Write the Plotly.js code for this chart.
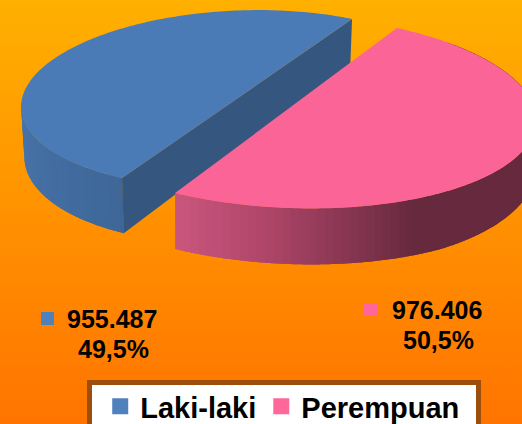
<!DOCTYPE html>
<html><head><meta charset="utf-8">
<script src="https://cdn.plot.ly/plotly-3.0.1.min.js"></script>
<style>html,body{margin:0;padding:0;width:522px;height:424px;overflow:hidden;background:linear-gradient(180deg,#FFB000 0%,#FF8D00 58%,#FF7400 100%)}#c{width:522px;height:424px}</style>
</head><body><div id="c"></div>
<script>
const categories = ["Laki-laki", "Perempuan"];
const values = [955487, 976406];
const topColors = ["#4A7BB7", "#FA6496"];
const keyColors = ["#4F81BD", "#FF6699"];

const total = values[0] + values[1];
const fracs = values.map(v => v / total);
const spanBlue = fracs[0] * 360, spanPink = fracs[1] * 360;
const startA = 60 + (180 - spanBlue) / 2;       // blue runs counter-clockwise from here
const endA = startA + spanBlue;
const rad = d => d * Math.PI / 180;

// Projected ellipses for each slice of the tilted pie
const blueE = {cx:240.2, cy:99.2, rx:219, sx:6.4, ry:89, ky:-4.9};
const pinkE = {cx:289.8, cy:111.4, rx:246, sx:-13.9, ry:97, ky:2.97};
const pt = (e, a) => { const t = rad(a);
  return [e.cx + e.rx*Math.cos(t) + e.sx*Math.sin(t), e.cy - e.ry*Math.sin(t) + e.ky*Math.cos(t)]; };
const blueDrop = p => { const d = 44 + 0.07*(p[1]-19); return [blueE.cx + (p[0]-blueE.cx)*0.985, p[1]+d]; };
const pinkDrop = p => { const d = Math.min(56, 56 - (193-p[1])*0.13); return [p[0], p[1]+d]; };

const poly = (pts, color) => ({type:'scatter', mode:'none', x:pts.map(p=>p[0]), y:pts.map(p=>p[1]),
  fill:'toself', fillcolor:color, hoverinfo:'skip', showlegend:false});
const mix = (a,b,f) => 'rgb(' + a.map((v,i)=>Math.round(v+(b[i]-v)*f)).join(',') + ')';
const arc = (e, a0, a1, step) => { const out = []; for (let a = a0; a < a1; a += step) out.push(pt(e,a)); out.push(pt(e,a1)); return out; };

const data = [];
// blue outer wall: overlapping strips so no background shows between them
const blueStep = 3;
for (let a = 178; a < endA; a += blueStep) {
  const b = Math.min(a + 2*blueStep, endA);
  const top = arc(blueE, a, b, 0.5);
  data.push(poly(top.concat(top.map(blueDrop).reverse()), mix([72,117,172],[62,103,152],(a-178)/(endA-178))));
}
// blue cut face
const bs = pt(blueE,startA), be = pt(blueE,endA);
data.push(poly([be,bs,blueDrop(bs),blueDrop(be)], "#35577F"));
// blue top
data.push(poly(arc(blueE,startA,endA,1), topColors[0]));
// pink outer wall, shaded by horizontal position
const wallL = [201,85,125], wallM = [175,70,105], wallD = [102,41,62];
const shade = x => x < 261 ? mix(wallL,wallM,(x-175)/86) : mix(wallM,wallD,Math.min(1,(x-261)/150));
const pinkEnd = endA + spanPink, pinkStep = 2;
for (let a = endA; a < 405; a += pinkStep) {
  const top = arc(pinkE, a, a + 2*pinkStep, 0.5);
  data.push(poly(top.concat(top.map(pinkDrop).reverse()), shade(top[0][0])));
}
// pink top
data.push(poly(arc(pinkE,endA,pinkEnd,1), topColors[1]));

// data label keys
const keyX = [47.5, 370.5], keyY = [318.5, 309.5];
keyX.forEach((x,i)=>data.push({type:'scatter', mode:'markers', x:[x], y:[keyY[i]],
  marker:{symbol:'square', size:13, color:keyColors[i]}, hoverinfo:'skip', showlegend:false}));
// legend entries
categories.forEach((c,i)=>data.push({type:'scatter', mode:'markers', name:c, x:[null], y:[null],
  marker:{symbol:'square', size:16, color:keyColors[i]}, hoverinfo:'skip', showlegend:true}));

const fmtV = v => String(v).replace(/\B(?=(\d{3})+$)/g,'.');
const fmtP = f => (f*100).toFixed(1).replace('.',',') + '%';
const labelFont = {family:'"Liberation Sans", Arial, sans-serif', size:25, color:'#000000'};
const labelX = [112, 437], labelY = [319, 310], lineGap = 30;
const annotations = [];
values.forEach((v,i)=>{
  annotations.push({xref:'x', yref:'y', x:labelX[i], y:labelY[i], text:'<b>'+fmtV(v)+'</b>', showarrow:false, font:labelFont, xanchor:'center', yanchor:'middle'});
  annotations.push({xref:'x', yref:'y', x:labelX[i]+1, y:labelY[i]+lineGap, text:'<b>'+fmtP(fracs[i])+'</b>', showarrow:false, font:labelFont, xanchor:'center', yanchor:'middle'});
});

const layout = {
  width:522, height:424, margin:{l:0,r:0,t:0,b:0,autoexpand:false},
  paper_bgcolor:'rgba(0,0,0,0)', plot_bgcolor:'rgba(0,0,0,0)',
  xaxis:{range:[0,522], visible:false, fixedrange:true},
  yaxis:{range:[424,0], visible:false, fixedrange:true},
  annotations,
  shapes:[{type:'rect', xref:'x', yref:'y', x0:89.5, x1:478.5, y0:382.5, y1:450, line:{color:'#9C4F0C', width:5}, fillcolor:'#FFFFFF', layer:'below'}],
  legend:{orientation:'h', x:0.192, xanchor:'left', y:1-381/424, yanchor:'top', bgcolor:'rgba(0,0,0,0)', borderwidth:0,
    itemsizing:'trace', itemwidth:30,
    font:{family:'"Liberation Sans", Arial, sans-serif', size:29, color:'#000000', weight:'bold'}},
  showlegend:true
};
Plotly.newPlot('c', data, layout, {displayModeBar:false, staticPlot:true});
</script></body></html>
